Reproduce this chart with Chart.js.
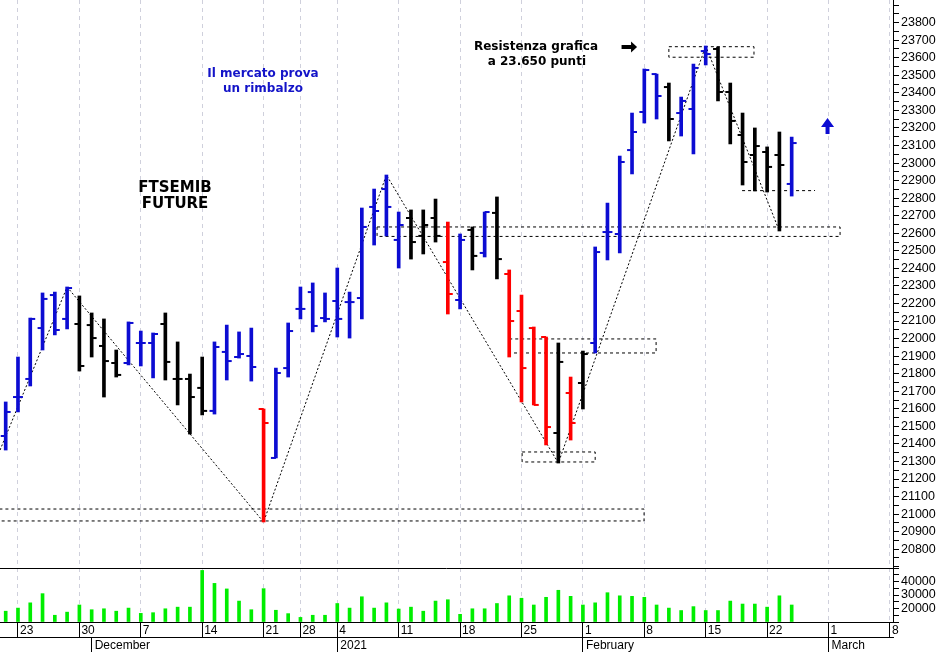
<!DOCTYPE html>
<html><head><meta charset="utf-8">
<script src="https://cdn.jsdelivr.net/npm/chart.js@4/dist/chart.umd.min.js"></script>
<style>html,body{margin:0;padding:0;background:#fff;overflow:hidden}canvas{display:block}</style>
</head><body>
<canvas id="c" width="943" height="652"></canvas>
<script>
// ---- DATA (index 0 = 20 Nov 2020, one slot per trading day) ----
const tradingDays = ['20 Nov','23 Nov','24 Nov','25 Nov','26 Nov','27 Nov','30 Nov','1 Dec','2 Dec','3 Dec','4 Dec',
 '7 Dec','8 Dec','9 Dec','10 Dec','11 Dec','14 Dec','15 Dec','16 Dec','17 Dec','18 Dec','21 Dec','22 Dec','23 Dec',
 '28 Dec','29 Dec','30 Dec','4 Jan','5 Jan','6 Jan','7 Jan','8 Jan','11 Jan','12 Jan','13 Jan','14 Jan','15 Jan',
 '18 Jan','19 Jan','20 Jan','21 Jan','22 Jan','25 Jan','26 Jan','27 Jan','28 Jan','29 Jan','1 Feb','2 Feb','3 Feb',
 '4 Feb','5 Feb','8 Feb','9 Feb','10 Feb','11 Feb','12 Feb','15 Feb','16 Feb','17 Feb','18 Feb','19 Feb','22 Feb',
 '23 Feb','24 Feb'];
const opens  = [21445,21667,21770,22060,22248,22112,22083,22077,21958,21861,21861,21975,21975,22083,21770,21770,21719,21588,21924,21895,21901,21599,21320,21832,22169,22265,22117,22214,22208,22231,22750,22852,22562,22687,22585,22687,22436,22220,22619,22488,22716,22368,22157,22060,22009,21462,21690,21747,21975,22607,22596,23074,23291,23507,23433,23285,23308,23638,23650,23405,23160,23046,23063,23046,22881];
const highs  = [21639,21895,22117,22260,22265,22294,22243,22146,22112,21935,22095,22043,22032,22146,21981,21798,21895,21981,22077,22038,22060,21599,21832,22089,22294,22317,22260,22402,22265,22744,22852,22932,22721,22733,22733,22795,22664,22596,22636,22721,22807,22391,22248,22066,22009,21975,21781,21929,22522,22772,23040,23285,23536,23507,23456,23376,23564,23667,23661,23456,23285,23200,23092,23177,23148];
const lows   = [21365,21582,21730,21935,22021,22055,21815,21895,21667,21781,21850,21844,21776,21764,21622,21456,21565,21570,21764,21889,21758,20955,21320,21781,22112,22038,22095,22009,22003,22112,22533,22585,22402,22453,22482,22550,22140,22169,22391,22465,22340,21895,21639,21622,21394,21291,21422,21599,21918,22448,22488,22938,23228,23251,23126,23154,23052,23559,23354,23109,22875,22841,22835,22613,22812];
const closes = [21582,21667,22112,22226,22049,22288,21844,22003,21872,21793,22089,21975,22026,21867,21770,21667,21588,21952,21872,21912,21838,21519,21804,22043,22169,22072,22112,22112,22208,22636,22727,22750,22647,22550,22647,22585,22254,22562,22471,22721,22453,22100,21832,21622,21496,21867,21519,21912,22493,22607,23006,23177,23530,23382,23251,23354,23542,23621,23405,23240,23006,23097,22978,22989,23114];
// bar colour code: B = blue, K = black, R = red
const barCodes = 'BBBBBBKKKKBBBKKKKBBBBRBBBBBBBBBBBKKKRBKBKRRRRKRKBBBBBBKBBBKKKKKKB'.split('');
const volumes = [18000,20300,24200,31000,15000,17300,22600,19100,19800,18000,20300,16400,16900,19800,21000,21000,48200,38600,34500,25500,19100,34700,18700,16200,13400,15000,15000,23700,20300,28700,20300,24200,19600,21000,18000,25500,26500,15700,19800,19800,23700,29400,27600,22600,28300,33500,29000,22600,24200,31700,29400,29000,28300,22600,20300,18500,21400,18500,18500,25500,23300,23300,21000,29400,22600];
const weekTickIdx    = [1,6,11,16,21,24,27,32,37,42,47,52,57,62,67,72];
const weekTickLabels = ['23','30','7','14','21','28','4','11','18','25','1','8','15','22','1','8'];
const monthTickIdx    = [7,27,47,67];
const monthTickLabels = ['December','2021','February','March'];
// technical-analysis drawings (trading-day index, price)
const zigzag = [[-0.46,21365],[5,22294],[21,20955],[31,22932],[45,21291],[57,23667],[63,22613]];
const zones = [ // [fromIdx, toIdx, lowPrice, highPrice]
  [-1, 51.98, 20961, 21029],
  [42.05, 48.0, 21297, 21354],
  [41.0, 52.96, 21918, 21998],
  [54.0, 60.93, 23603, 23663],
  [30.24, 67.94, 22582, 22636]
];
const levelLine = [59.96, 65.9, 22843];

// ---- STYLE ----
const COL = {B:'#0c0cd2', K:'#000000', R:'#ff0000'};
const barColors = barCodes.map(c => COL[c]);
const X_MIN = -0.464, X_MAX = 72.25;
const P_MIN = 20693, P_MAX = 23929;
const V_MIN = 10000, V_MAX = 50000;
const TICK_OFF = 0.2;

Chart.defaults.font.family = '"Liberation Sans", Arial, sans-serif';
Chart.defaults.color = '#000';

const datasets = [];
datasets.push({type:'bar', data: highs.map((h,i)=>({x:i, y:[lows[i], h]})), backgroundColor: barColors,
  barThickness:3, grouped:false, yAxisID:'y', borderWidth:0});
datasets.push({type:'line', showLine:false, data: opens.map((o,i)=>({x:i-TICK_OFF, y:o})), pointStyle:'line',
  pointRadius:2.5, pointBorderWidth:2, pointBorderColor: barColors, pointBackgroundColor: barColors, yAxisID:'y'});
datasets.push({type:'line', showLine:false, data: closes.map((c,i)=>({x:i+TICK_OFF, y:c})), pointStyle:'line',
  pointRadius:2.5, pointBorderWidth:2, pointBorderColor: barColors, pointBackgroundColor: barColors, yAxisID:'y'});
datasets.push({type:'bar', data: volumes.map((v,i)=>({x:i, y:v})), base: V_MIN, backgroundColor:'#00ee00',
  barThickness:3, grouped:false, yAxisID:'yv', borderWidth:0});
datasets.push({type:'line', data: zigzag.map(p=>({x:p[0], y:p[1]})), borderColor:'#000', borderWidth:1,
  borderDash:[2,2], pointRadius:0, yAxisID:'y', tension:0});
zones.forEach(z => {
  datasets.push({type:'line', data:[{x:z[0],y:z[3]},{x:z[1],y:z[3]},{x:z[1],y:z[2]},{x:z[0],y:z[2]},{x:z[0],y:z[3]}],
    borderColor:'#000', borderWidth:1, borderDash:[3,3], pointRadius:0, yAxisID:'y', tension:0});
});
datasets.push({type:'line', data:[{x:levelLine[0],y:levelLine[2]},{x:levelLine[1],y:levelLine[2]}],
  borderColor:'#000', borderWidth:1, borderDash:[3,3], pointRadius:0, yAxisID:'y'});

const notes = [
  {t:'Il mercato prova', i:20.95, v:23490, c:'#1414c8', f:'bold 12px "DejaVu Sans"'},
  {t:'un rimbalzo',      i:20.95, v:23405, c:'#1414c8', f:'bold 12px "DejaVu Sans"'},
  {t:'FTSEMIB',          i:13.79, v:22835, c:'#000',    f:'bold 15px "DejaVu Sans"'},
  {t:'FUTURE',           i:13.79, v:22744, c:'#000',    f:'bold 15px "DejaVu Sans"'},
  {t:'Resistenza grafica', i:43.18, v:23644, c:'#000',  f:'bold 12px "DejaVu Sans"'},
  {t:'a 23.650 punti',   i:43.25, v:23559, c:'#000',    f:'bold 12px "DejaVu Sans"'}
];

const annot = {
  id:'annot',
  afterDatasetsDraw(chart){
    const {ctx, scales} = chart;
    const P = (i,v)=>[scales.x.getPixelForValue(i), scales.y.getPixelForValue(v)];
    ctx.save();
    ctx.textAlign='center'; ctx.textBaseline='alphabetic';
    notes.forEach(n => { const [px,py]=P(n.i,n.v); ctx.font=n.f; ctx.fillStyle=n.c; ctx.fillText(n.t, px, py); });
    // right arrow (tip anchored at data point)
    let [tx,ty] = P(51.41, 23661);
    ctx.fillStyle='#000'; ctx.beginPath();
    ctx.moveTo(tx,ty); ctx.lineTo(tx-6,ty-5.5); ctx.lineTo(tx-6,ty-2); ctx.lineTo(tx-15.5,ty-2);
    ctx.lineTo(tx-15.5,ty+2); ctx.lineTo(tx-6,ty+2); ctx.lineTo(tx-6,ty+5.5); ctx.closePath(); ctx.fill();
    // up arrow
    [tx,ty] = P(66.92, 23257);
    ctx.fillStyle='#0c0cd2'; ctx.beginPath();
    ctx.moveTo(tx,ty); ctx.lineTo(tx+6.5,ty+9); ctx.lineTo(tx+2,ty+9); ctx.lineTo(tx+2,ty+16);
    ctx.lineTo(tx-2,ty+16); ctx.lineTo(tx-2,ty+9); ctx.lineTo(tx-6.5,ty+9); ctx.closePath(); ctx.fill();
    ctx.restore();
  }
};

const fitY = s => { s.width = 50; s.paddingTop = 0; s.paddingBottom = 0; };
const fitX = s => { s.height = 15; s.paddingLeft = 0; s.paddingRight = 0; };
const axisFont = {size:12.5, family:'"Liberation Sans", Arial, sans-serif'};

new Chart(document.getElementById('c'), {
  type:'bar',
  data:{datasets},
  plugins:[annot],
  options:{
    responsive:false, animation:false, devicePixelRatio:1,
    layout:{padding:0, autoPadding:false},
    plugins:{legend:{display:false}, tooltip:{enabled:false}},
    scales:{
      x:{type:'linear', position:'bottom', min:X_MIN, max:X_MAX, offset:false,
        afterBuildTicks: s => { s.ticks = weekTickIdx.map(v=>({value:v})); },
        afterFit: fitX,
        ticks:{autoSkip:false, maxRotation:0, minRotation:0, align:'start', labelOffset:2, padding:-14,
          font:{size:12}, color:'#000', callback:(v,i)=>weekTickLabels[i]},
        grid:{display:true, drawOnChartArea:true, color:'#cfd0dc', lineWidth:1, offset:false,
          drawTicks:true, tickLength:15, tickColor:'#000', tickBorderDash:[]},
        border:{display:true, color:'#000', dash:[4,4]}},
      x2:{type:'linear', position:'bottom', min:X_MIN, max:X_MAX, offset:false,
        afterBuildTicks: s => { s.ticks = monthTickIdx.map(v=>({value:v})); },
        afterFit: fitX,
        ticks:{autoSkip:false, maxRotation:0, minRotation:0, align:'start', labelOffset:3, padding:-14,
          font:{size:12}, color:'#000', callback:(v,i)=>monthTickLabels[i]},
        grid:{display:true, drawOnChartArea:false, offset:false, drawTicks:true, tickLength:15, tickColor:'#000'},
        border:{display:true, color:'#000'}},
      y:{type:'linear', position:'right', stack:'panes', stackWeight:568, min:P_MIN, max:P_MAX,
        afterFit: fitY,
        ticks:{stepSize:50, autoSkip:false, includeBounds:false, padding:2, font:axisFont, color:'#000',
          callback: v => (v % 100 === 0 && v >= 20800 && v <= 23800 ? String(v) : '')},
        grid:{drawOnChartArea:false, drawTicks:true, tickLength:6, tickColor:'#000'},
        border:{display:true, color:'#000'}},
      yv:{type:'linear', position:'right', stack:'panes', stackWeight:54, min:V_MIN, max:V_MAX,
        afterFit: fitY,
        ticks:{stepSize:5000, autoSkip:false, includeBounds:false, padding:2, font:axisFont, color:'#000',
          callback: v => ((v % 10000 === 0 && v > V_MIN && v < V_MAX) ? String(v) : '')},
        grid:{drawOnChartArea:true, drawTicks:true, tickLength:6, tickColor:'#000',
          color: c => (c.tick && c.tick.value === V_MAX ? '#000' : 'rgba(0,0,0,0)')},
        border:{display:true, color:'#000'}}
    }
  }
});
</script>
</body></html>
